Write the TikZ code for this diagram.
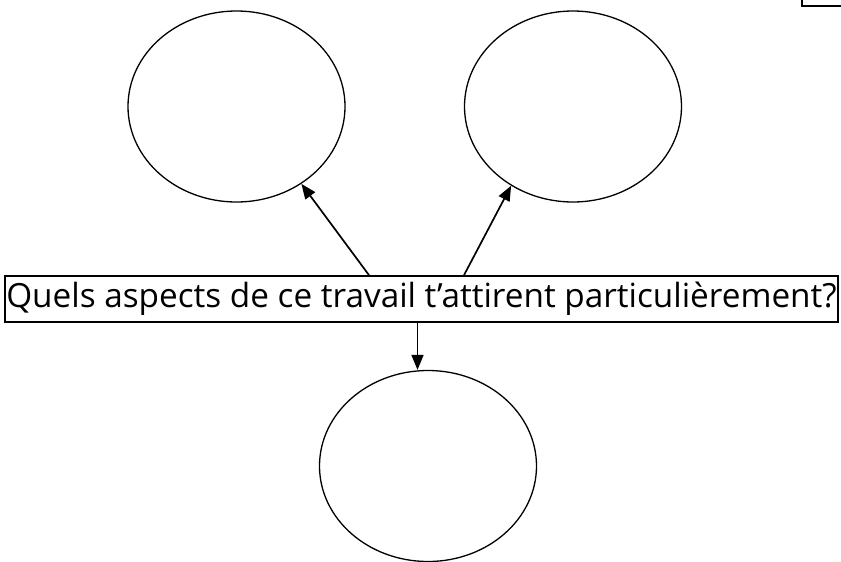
\documentclass[tikz,border=0pt]{standalone}
\usepackage{fontspec}
\setmainfont{Open Sans}
\usetikzlibrary{arrows.meta,shapes.geometric}
\begin{document}
\begin{tikzpicture}[
        x=1pt, y=1pt,
        question/.style={draw, line width=1.7pt, minimum width=833pt, minimum height=46pt, inner sep=0pt, font=\fontsize{33.3}{36}\selectfont},
        answer/.style={draw, ellipse, line width=1.3pt, minimum width=217pt, minimum height=191pt},
        arrow/.style={-{Triangle[length=15pt,width=12pt]}, line width=1.7pt}
    ]
        \useasboundingbox (0,0) rectangle (841,-562);
        % question box and the three answer bubbles
        \node[question] (question) at (421.5,-299) {Quels aspects de ce travail t'attirent particulièrement?};
        \node[answer] (left) at (236.5,-106.5) {};
        \node[answer] (right) at (573,-106.5) {};
        \node[answer] (bottom) at (428,-466) {};
        % partly hidden box in the corner
        \node[draw, line width=1.7pt, minimum width=60pt, minimum height=20pt, anchor=south west] (corner) at (801,-7) {};
        % arrows
        \draw[arrow] ([xshift=-52.5pt]question.north) -- (left.-50.4);
        \draw[arrow] ([xshift=42.5pt]question.north) -- (right.-128.6);
        \draw[arrow] ([xshift=-4pt]question.south) -- ([xshift=-4pt]question.south |- bottom.north);
    \end{tikzpicture}
\end{document}
